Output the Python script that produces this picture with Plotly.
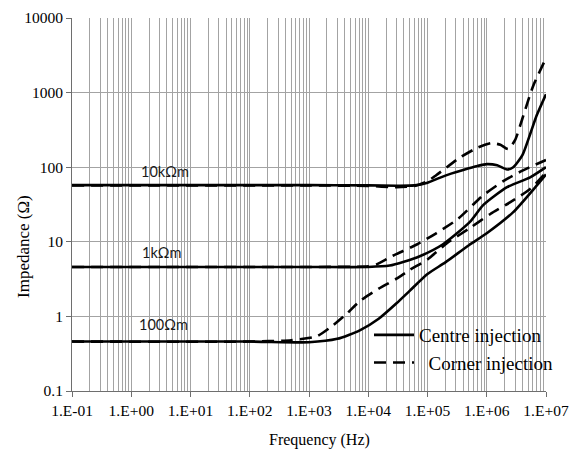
import math
import plotly.graph_objects as go

# ---- data (frequency in Hz, impedance in ohm) ----
f_10k_centre = [0.1, 1e3, 1e4, 3e4, 6e4, 1e5, 1.6e5, 2.5e5, 4e5, 7e5, 1e6, 1.5e6, 2.2e6, 2.8e6, 4e6, 5.5e6, 7e6, 1e7]
z_10k_centre = [57.5, 57.5, 57, 56.5, 57, 62, 72, 82, 92, 104, 110, 106, 93, 100, 145, 290, 500, 950]

f_10k_corner = [0.1, 1e3, 1e4, 3e4, 6e4, 1e5, 1.4e5, 3.5e5, 7e5, 1.2e6, 1.7e6, 2.3e6, 3e6, 4e6, 6e6, 1e7]
z_10k_corner = [57, 57, 56, 54, 56, 65, 78, 134, 183, 210, 200, 175, 230, 450, 1200, 2900]

f_1k_centre = [0.1, 1e3, 1e4, 2.3e4, 4e4, 7.4e4, 1.8e5, 5.2e5, 8.7e5, 2.2e6, 5.4e6, 1e7]
z_1k_centre = [4.6, 4.6, 4.6, 4.8, 5.4, 6.4, 9.2, 18.5, 31, 54, 73, 100]

f_1k_corner = [0.1, 1e3, 1e4, 1.4e4, 2.6e4, 6.6e4, 1.4e5, 3.2e5, 8.7e5, 1.9e6, 4e6, 1e7]
z_1k_corner = [4.6, 4.6, 4.7, 5.0, 6.5, 9.2, 13, 20, 42, 65, 90, 125]

f_100_centre = [0.1, 1e2, 1e3, 3e3, 7.2e3, 1.5e4, 3e4, 5e4, 1e5, 2e5, 5e5, 1e6, 2.8e6, 7e6, 1e7]
z_100_centre = [0.46, 0.46, 0.45, 0.5, 0.65, 0.93, 1.5, 2.2, 3.7, 5.3, 9, 13, 25, 57, 80]

f_100_corner = [0.1, 1e2, 5e2, 1.35e3, 2.5e3, 4.3e3, 7.2e3, 1.5e4, 3e4, 5e4, 1e5, 2.1e5, 5e5, 1.15e6, 2.5e6, 5.4e6, 1e7]
z_100_corner = [0.46, 0.46, 0.48, 0.54, 0.75, 1.08, 1.6, 2.35, 3.2, 4.2, 5.8, 9.5, 15, 23.6, 34, 51, 85]

x_tickvals = [1e-1, 1e0, 1e1, 1e2, 1e3, 1e4, 1e5, 1e6, 1e7]
x_ticktext = ["1.E-01", "1.E+00", "1.E+01", "1.E+02", "1.E+03", "1.E+04", "1.E+05", "1.E+06", "1.E+07"]
y_tickvals = [0.1, 1, 10, 100, 1000, 10000]
y_ticktext = ["0.1", "1", "10", "100", "1000", "10000"]

# resistivity labels (frequency, impedance) where they sit
labels = ["10kΩm", "1kΩm", "100Ωm"]
label_f = [3.75, 3.2, 3.53]
label_z = [88, 7.2, 0.775]

legend_names = ["Centre injection", "\u00a0\u00a0Corner injection"]

series = [
    (f_10k_centre, z_10k_centre, 0, True),
    (f_10k_corner, z_10k_corner, 1, True),
    (f_1k_centre, z_1k_centre, 0, False),
    (f_1k_corner, z_1k_corner, 1, False),
    (f_100_centre, z_100_centre, 0, False),
    (f_100_corner, z_100_corner, 1, False),
]

fig = go.Figure()
for fx, zy, kind, show in series:
    fig.add_trace(go.Scatter(
        x=fx, y=zy, mode="lines", name=legend_names[kind], legendgroup=str(kind),
        showlegend=show,
        line=dict(color="black", width=2.6, shape="spline", smoothing=0.6,
                  dash=("solid" if kind == 0 else "12px,7px")),
    ))

for t, lf, lz in zip(labels, label_f, label_z):
    fig.add_annotation(x=math.log10(lf), y=math.log10(lz), xref="x", yref="y", text=t,
                       showarrow=False,
                       font=dict(family="Lato, Liberation Sans, Arial", size=14.5, color="#1a1a1a"),
                       xanchor="center", yanchor="middle")

serif = "Liberation Serif, Times New Roman, serif"
# page body has an 8px margin, so the figure is drawn 8px in from the window corner
OFF = 8
W, H = 581 - OFF, 453 - OFF
L, T = 72 - OFF, 18 - OFF
R = W - (546 - OFF)
B = H - (391 - OFF)
pw, ph = W - L - R, H - T - B


def px(xs):
    return (xs - OFF - L) / pw


def py(ys):
    return (T + ph - (ys - OFF)) / ph


fig.add_annotation(text="Frequency (Hz)", xref="paper", yref="paper",
                   x=px(319), y=py(440), showarrow=False,
                   xanchor="center", yanchor="middle",
                   font=dict(family=serif, size=16, color="black"))
fig.add_annotation(text="Impedance (Ω)", xref="paper", yref="paper",
                   x=px(23), y=py(247), showarrow=False, textangle=-90,
                   xanchor="center", yanchor="middle",
                   font=dict(family=serif, size=17, color="black"))

grid = "#a3a3a3"
fig.update_layout(
    width=W, height=H,
    margin=dict(l=L, r=R, t=T, b=B),
    paper_bgcolor="white", plot_bgcolor="white",
    font=dict(family=serif, size=15.5, color="black"),
    showlegend=True,
    legend=dict(x=px(369), y=py(316), xanchor="left", yanchor="top",
                bgcolor="rgba(0,0,0,0)", font=dict(family=serif, size=19, color="black"),
                tracegroupgap=0, itemwidth=40, traceorder="grouped"),
    xaxis=dict(
        type="log", range=[-1, 7], automargin=False, ticklabeloverflow="allow",
        tickmode="array", tickvals=x_tickvals, ticktext=x_ticktext,
        showgrid=True, gridcolor=grid, gridwidth=1,
        minor=dict(showgrid=True, gridcolor=grid, gridwidth=1, dtick="D1", ticks=""),
        showline=True, linecolor="#6e6e6e", linewidth=1,
        ticks="outside", ticklen=5, tickcolor="#6e6e6e",
        zeroline=False,
    ),
    yaxis=dict(
        type="log", range=[-1, 4], automargin=False, ticklabeloverflow="allow",
        tickmode="array", tickvals=y_tickvals, ticktext=y_ticktext,
        showgrid=True, gridcolor=grid, gridwidth=1,
        showline=True, linecolor="#6e6e6e", linewidth=1,
        ticks="outside", ticklen=5, tickcolor="#6e6e6e",
        zeroline=False,
    ),
)

fig.write_html("out.html")
